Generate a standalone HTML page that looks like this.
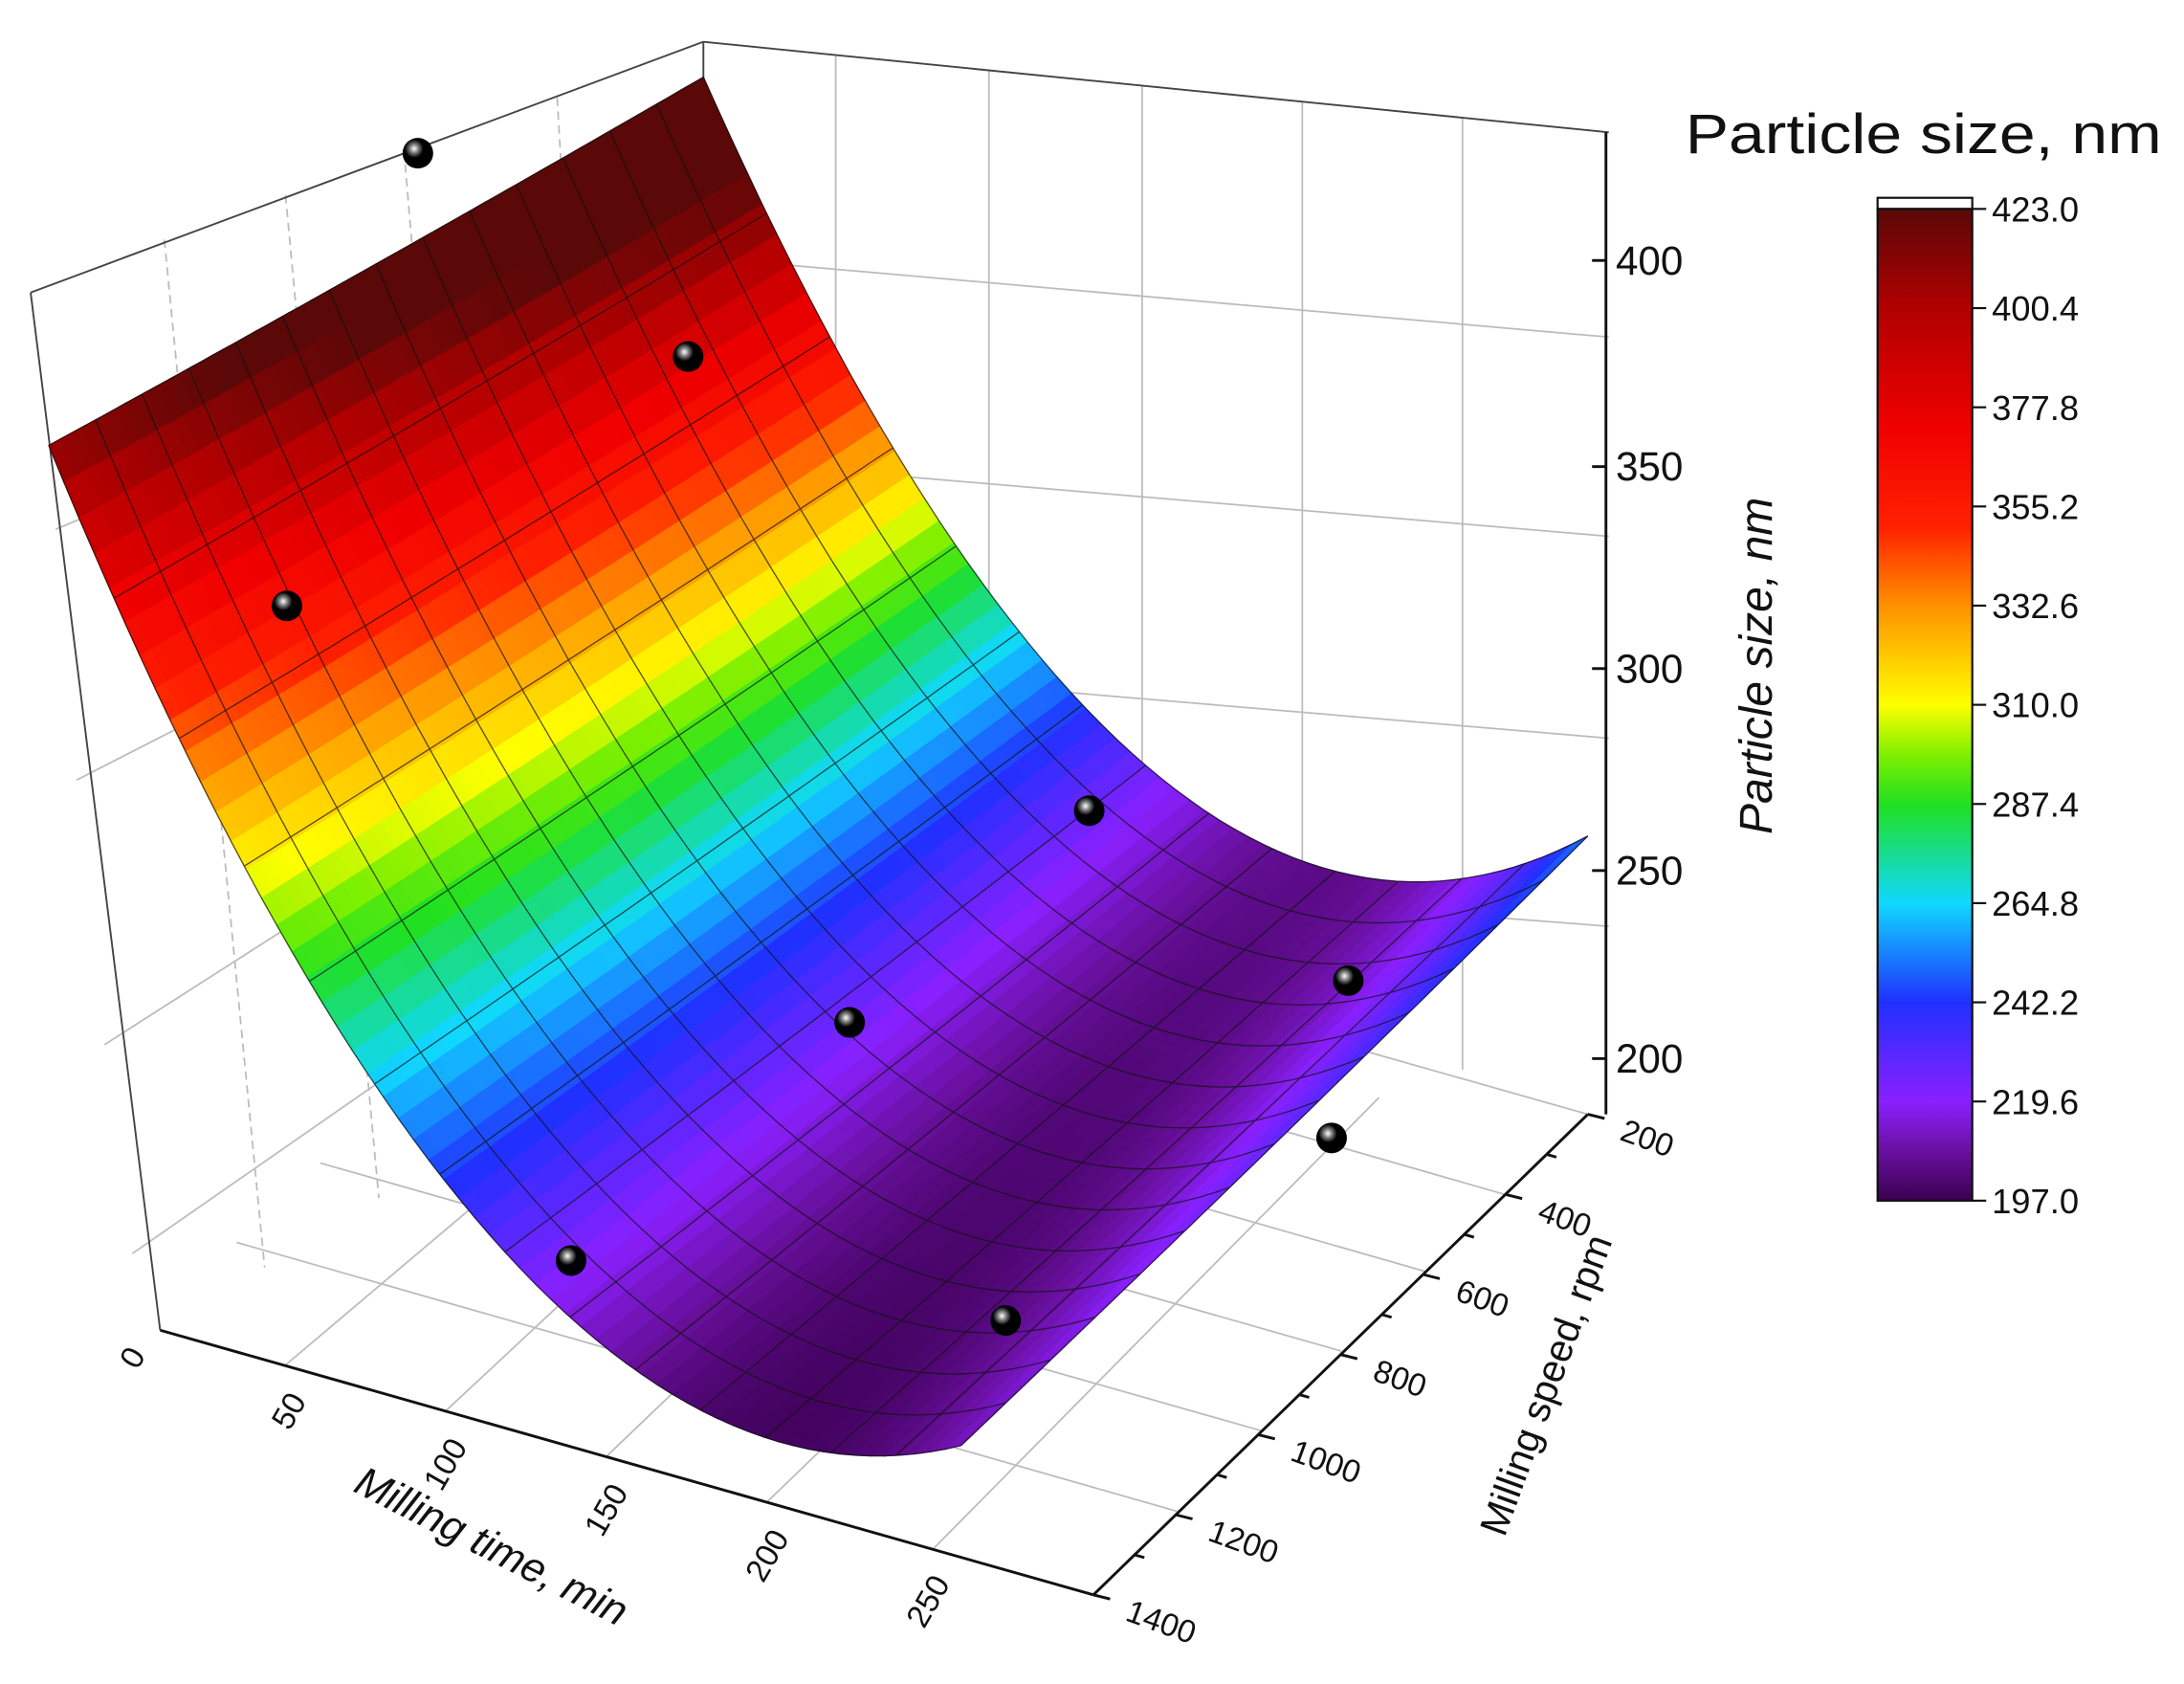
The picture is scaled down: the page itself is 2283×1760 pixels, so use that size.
<!DOCTYPE html>
<html><head><meta charset="utf-8"><style>
html,body{margin:0;padding:0;background:#fff;width:2283px;height:1760px;overflow:hidden}
svg{display:block}
text{font-family:"Liberation Sans",Arial,sans-serif;fill:#111}
</style></head><body>
<svg id="s" width="2283" height="1760" viewBox="0 0 1568 1209" preserveAspectRatio="none" xmlns="http://www.w3.org/2000/svg">
<defs>
<linearGradient id="cb" x1="0" y1="1" x2="0" y2="0">
<stop offset="0" stop-color="#3a0050"/>
<stop offset="0.05" stop-color="#6a10a0"/>
<stop offset="0.1" stop-color="#8a20ff"/>
<stop offset="0.2" stop-color="#2030ff"/>
<stop offset="0.3" stop-color="#10d8ff"/>
<stop offset="0.4" stop-color="#20e020"/>
<stop offset="0.45" stop-color="#80f000"/>
<stop offset="0.5" stop-color="#ffff00"/>
<stop offset="0.6" stop-color="#ff9000"/>
<stop offset="0.68" stop-color="#ff2000"/>
<stop offset="0.78" stop-color="#f00000"/>
<stop offset="0.9" stop-color="#b00000"/>
<stop offset="1" stop-color="#5a0808"/>
</linearGradient>
<radialGradient id="ball" cx="0.38" cy="0.35" r="0.6">
<stop offset="0" stop-color="#fff"/><stop offset="0.25" stop-color="#777"/><stop offset="0.5" stop-color="#000"/><stop offset="1" stop-color="#000"/>
</radialGradient>
</defs>
<g id="box" stroke="#bbb" stroke-width="1.2" fill="none">
<line x1="600" y1="40" x2="600" y2="640"/><line x1="710" y1="51" x2="710" y2="671"/>
<line x1="820" y1="62" x2="820" y2="702"/><line x1="935" y1="73" x2="935" y2="735"/>
<line x1="1050" y1="85" x2="1050" y2="768"/>
<line x1="505" y1="185" x2="1155" y2="242"/><line x1="505" y1="330" x2="1155" y2="385"/>
<line x1="505" y1="475" x2="1155" y2="530"/><line x1="505" y1="615" x2="1155" y2="665"/>
<line x1="118" y1="172" x2="190" y2="910" stroke-dasharray="6,4"/>
<line x1="205" y1="140" x2="272" y2="860" stroke-dasharray="6,4"/>
<line x1="290" y1="108" x2="350" y2="812" stroke-dasharray="6,4"/>
<line x1="400" y1="70" x2="440" y2="750" stroke-dasharray="6,4"/>
<line x1="40" y1="380" x2="505" y2="185"/><line x1="55" y1="560" x2="505" y2="330"/>
<line x1="75" y1="750" x2="505" y2="475"/><line x1="95" y1="900" x2="505" y2="615"/>
<line x1="205" y1="980" x2="560" y2="680"/><line x1="320" y1="1013" x2="650" y2="705"/>
<line x1="435" y1="1046" x2="760" y2="735"/><line x1="550" y1="1079" x2="870" y2="770"/>
<line x1="670" y1="1112" x2="990" y2="788"/>
<line x1="470" y1="610" x2="1140" y2="800"/>
<line x1="410" y1="665" x2="1082" y2="858"/><line x1="350" y1="720" x2="1024" y2="913"/>
<line x1="290" y1="778" x2="963" y2="970"/><line x1="230" y1="835" x2="905" y2="1027"/>
<line x1="170" y1="892" x2="845" y2="1085"/>
</g>
<g stroke="#444" stroke-width="1.3" fill="none">
<line x1="22" y1="210" x2="505" y2="30"/><line x1="505" y1="30" x2="1155" y2="95"/>
<line x1="505" y1="30" x2="505" y2="610"/>
<line x1="22" y1="210" x2="115" y2="955"/>
</g>
<g id="surf"></g>
<g id="mesh" stroke="#111" stroke-width="0.9" fill="none" opacity="0.7"></g>
<g stroke="#111" stroke-width="2" fill="none">
<line x1="1153" y1="95" x2="1153" y2="800"/>
<line x1="115" y1="955" x2="785" y2="1145"/>
<line x1="785" y1="1145" x2="1140" y2="800"/>
</g>
<g stroke="#111" stroke-width="2">
<line x1="1153" y1="187" x2="1143" y2="187"/><line x1="1153" y1="335" x2="1143" y2="335"/>
<line x1="1153" y1="480" x2="1143" y2="480"/><line x1="1153" y1="625" x2="1143" y2="625"/>
<line x1="1153" y1="760" x2="1143" y2="760"/>
</g>
<g id="ticks" stroke="#111" stroke-width="2"></g>
<g font-size="29">
<text x="1160" y="197">400</text><text x="1160" y="345">350</text>
<text x="1160" y="490">300</text><text x="1160" y="635">250</text>
<text x="1160" y="770">200</text>
</g>
<text transform="translate(1272,478) rotate(-90)" font-size="33" font-style="italic" text-anchor="middle">Particle size, nm</text>
<g font-size="23" id="sp"></g>
<g font-size="23" id="tm"></g>
<text transform="translate(352,1112) rotate(27)" font-size="30" font-style="italic" text-anchor="middle" dominant-baseline="middle">Milling time, min</text>
<text transform="translate(1112,995) rotate(-70)" font-size="28" text-anchor="middle" dominant-baseline="middle">Milling speed, rpm</text>
<g id="pts"></g>
<text x="1210" y="110" font-size="40" textLength="342" lengthAdjust="spacingAndGlyphs">Particle size, nm</text>
<rect x="1348" y="142" width="68" height="8" fill="#fff" stroke="#111" stroke-width="1.5"/>
<rect x="1348" y="150" width="68" height="712" fill="url(#cb)" stroke="#111" stroke-width="1.5"/>
<g id="cbl" font-size="25"></g>
</svg>
<script>
var NS="http://www.w3.org/2000/svg";
function el(p,t,a,txt){var e=document.createElementNS(NS,t);for(var k in a)e.setAttribute(k,a[k]);if(txt!==undefined)e.textContent=txt;p.appendChild(e);return e;}
var B00=[505,610],B10=[1140,800],B01=[35,955],B11=[690,1145];
function base(u,v){return[B00[0]*(1-u)*(1-v)+B10[0]*u*(1-v)+B01[0]*(1-u)*v+B11[0]*u*v,B00[1]*(1-u)*(1-v)+B10[1]*u*(1-v)+B01[1]*(1-u)*v+B11[1]*u*v];}
function h(u,v){var A=887+(880-887)*v,m=0.7+0.1*v,c=120+(72-120)*v;return A*(u-m)*(u-m)+c;}
function P(u,v){var b=base(u,v);return[b[0],b[1]-h(u,v)];}
function zval(u,v){var A=520+(330-520)*v,m=0.7+0.1*v,c=205+(199-205)*v;return A*(u-m)*(u-m)+c;}
var stops=[[0,[58,0,80]],[0.05,[106,16,160]],[0.1,[138,32,255]],[0.2,[32,48,255]],[0.3,[16,216,255]],[0.4,[32,224,32]],[0.45,[128,240,0]],[0.5,[255,255,0]],[0.6,[255,144,0]],[0.68,[255,32,0]],[0.78,[240,0,0]],[0.9,[176,0,0]],[1,[90,8,8]]];
function cmap(t){t=Math.max(0,Math.min(1,t));for(var i=1;i<stops.length;i++){if(t<=stops[i][0]){var a=stops[i-1],b=stops[i];var r=(t-a[0])/(b[0]-a[0]);var c=[0,1,2].map(function(k){return Math.round(a[1][k]+(b[1][k]-a[1][k])*r)});return"rgb("+c.join(",")+")";}}return"rgb(90,8,8)";}
var N=60,quads=[];
for(var i=0;i<N;i++)for(var j=0;j<N;j++){var u0=i/N,u1=(i+1)/N,v0=j/N,v1=(j+1)/N;var ps=[P(u0,v0),P(u1,v0),P(u1,v1),P(u0,v1)];var d=base((u0+u1)/2,(v0+v1)/2)[1];quads.push([d,ps,cmap((zval((u0+u1)/2,(v0+v1)/2)-197)/226)]);}
quads.sort(function(a,b){return a[0]-b[0]});
var sg=document.getElementById("surf");
quads.forEach(function(q){el(sg,"polygon",{points:q[1].map(function(p){return p[0].toFixed(1)+","+p[1].toFixed(1)}).join(" "),fill:q[2],stroke:q[2],"stroke-width":"0.8"});});
var mg=document.getElementById("mesh");
function line(fn){var s=[];for(var k=0;k<=60;k++){var p=fn(k/60);s.push(p[0].toFixed(1)+","+p[1].toFixed(1));}el(mg,"polyline",{points:s.join(" ")});}
for(var a=0;a<=14;a++){(function(a){line(function(t){return P(a/14,t)});line(function(t){return P(t,a/14)});})(a);}
var sp=document.getElementById("sp"),tk=document.getElementById("ticks");
["200","400","600","800","1000","1200","1400"].forEach(function(l,k){var t=k/6;var x=1140+(785-1140)*t,y=800+(1145-800)*t;el(tk,"line",{x1:x,y1:y,x2:x+12,y2:y+3});if(k<6){var t2=(k+0.5)/6;var x2=1140+(785-1140)*t2,y2=800+(1145-800)*t2;el(tk,"line",{x1:x2,y1:y2,x2:x2+7,y2:y2+2});}el(sp,"text",{transform:"translate("+(x+22)+","+(y+18)+") rotate(20)"},l);});
var tm=document.getElementById("tm");
["0","50","100","150","200","250"].forEach(function(l,k){var t=k*50/290;var x=115+(785-115)*t,y=955+(1145-955)*t;el(tm,"text",{transform:"translate("+(x-10)+","+(y+18)+") rotate(-60)","text-anchor":"end"},l);});
var pg=document.getElementById("pts");
[[300,110],[494,256],[206,435],[782,582],[610,734],[968,704],[956,817],[410,905],[722,948]].forEach(function(p){el(pg,"circle",{cx:p[0],cy:p[1],r:11,fill:"url(#ball)"});});
var cb=document.getElementById("cbl");
["423.0","400.4","377.8","355.2","332.6","310.0","287.4","264.8","242.2","219.6","197.0"].forEach(function(l,k){var y=150+k*71.2;el(cb,"line",{x1:1416,y1:y,x2:1426,y2:y,stroke:"#111","stroke-width":1.5});el(cb,"text",{x:1430,y:y+9},l);});
</script>
</body></html>
